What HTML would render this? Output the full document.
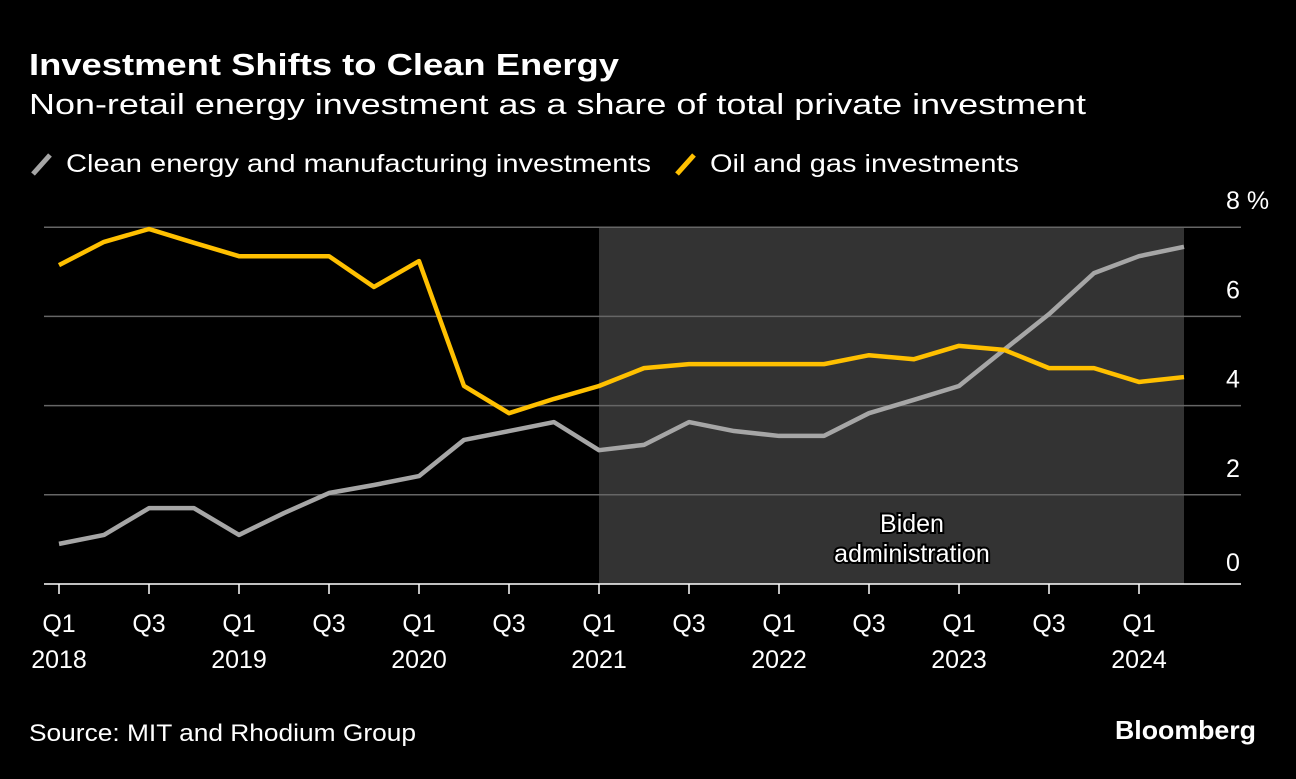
<!DOCTYPE html>
<html><head><meta charset="utf-8">
<style>
body{margin:0;background:#000;width:1296px;height:774px;overflow:hidden;font-family:"Liberation Sans",sans-serif;color:#fff}
</style></head><body>
<svg width="1296" height="774">
<text x="29" y="75" font-size="31" font-weight="bold" fill="#fff" textLength="590" lengthAdjust="spacingAndGlyphs">Investment Shifts to Clean Energy</text>
<text x="29" y="114" font-size="29" fill="#fff" textLength="1057" lengthAdjust="spacingAndGlyphs">Non-retail energy investment as a share of total private investment</text>
<g>
<line x1="33" y1="174" x2="50" y2="155" stroke="#a6a6a6" stroke-width="5"/>
<text x="66" y="172" font-size="25" fill="#fff" textLength="585" lengthAdjust="spacingAndGlyphs">Clean energy and manufacturing investments</text>
<line x1="677" y1="174" x2="694" y2="155" stroke="#ffc000" stroke-width="5"/>
<text x="710" y="172" font-size="25" fill="#fff" textLength="309" lengthAdjust="spacingAndGlyphs">Oil and gas investments</text>
</g>
<g id="plot"></g>
<text x="29" y="741" font-size="24" fill="#fff" textLength="387" lengthAdjust="spacingAndGlyphs">Source: MIT and Rhodium Group</text>
<text x="1256" y="739" font-size="26" font-weight="bold" fill="#fff" text-anchor="end" textLength="141" lengthAdjust="spacingAndGlyphs">Bloomberg</text>
</svg>
<script>
const quarters=["Q1","Q2","Q3","Q4","Q1","Q2","Q3","Q4","Q1","Q2","Q3","Q4","Q1","Q2","Q3","Q4","Q1","Q2","Q3","Q4","Q1","Q2","Q3","Q4","Q1","Q2"];
const years=["2018","2019","2020","2021","2022","2023","2024"];
const oilGas=[7.15,7.67,7.96,7.65,7.35,7.35,7.35,6.66,7.24,4.44,3.83,4.15,4.44,4.84,4.93,4.93,4.93,4.93,5.13,5.04,5.34,5.25,4.84,4.84,4.53,4.64];
const cleanEnergy=[0.9,1.1,1.7,1.7,1.1,1.59,2.04,2.22,2.42,3.23,3.43,3.63,3.0,3.12,3.63,3.43,3.32,3.32,3.83,4.13,4.44,5.25,6.05,6.97,7.35,7.56];
const yTicks=[0,2,4,6,8];
const bidenStart=12, bidenEnd=25;
const NS="http://www.w3.org/2000/svg";
const g=document.getElementById('plot');
function x(i){return 59+i*45;}
function y(v){return 584-v*44.6;}
function mk(t,a){const e=document.createElementNS(NS,t);for(const k in a)e.setAttribute(k,a[k]);g.appendChild(e);return e;}
let r=mk('rect',{x:x(bidenStart),y:y(8),width:x(bidenEnd)-x(bidenStart),height:y(0)-y(8),fill:'#333'});


yTicks.forEach(v=>{
 if(v>0){let l=mk('line',{x1:44,x2:1241,y1:y(v),y2:y(v),stroke:'#666','stroke-width':1.5});
 
 }
 let t=mk('text',{x:1226,y:y(v)-18+(v==0?5:0),'font-size':25,fill:'#fff'});
 t.textContent=v==8?'8 %':String(v);
 
 
});
let ax=mk('line',{x1:44,x2:1241,y1:y(0),y2:y(0),stroke:'#fff','stroke-width':1.5});


quarters.forEach((q,i)=>{
 if(i%2)return;
 let tk=mk('line',{x1:x(i),x2:x(i),y1:y(0),y2:y(0)+10,stroke:'#fff','stroke-width':1.5});
 
 
 let t=mk('text',{x:x(i),y:632,'font-size':25,fill:'#fff','text-anchor':'middle'});
 t.textContent=q;
 
 
 if(i%4==0){let yt=mk('text',{x:x(i),y:668,'font-size':25,fill:'#fff','text-anchor':'middle'});
 yt.textContent=years[i/4];
 
 }
});
function line(arr,col,name){
 let p=mk('polyline',{points:arr.map((v,i)=>x(i)+','+y(v)).join(' '),fill:'none',stroke:col,'stroke-width':4.5,'stroke-linejoin':'round'});
 
 
}
line(cleanEnergy,'#a6a6a6','clean-energy-line');
line(oilGas,'#ffc000','oil-gas-line');
[['Biden',532],['administration',562]].forEach(([s,yy])=>{
 let t=mk('text',{x:912,y:yy,'font-size':25,fill:'#fff','text-anchor':'middle',stroke:'#000','stroke-width':4,'paint-order':'stroke'});
 t.textContent=s;
 
 
});
</script>
</body></html>
